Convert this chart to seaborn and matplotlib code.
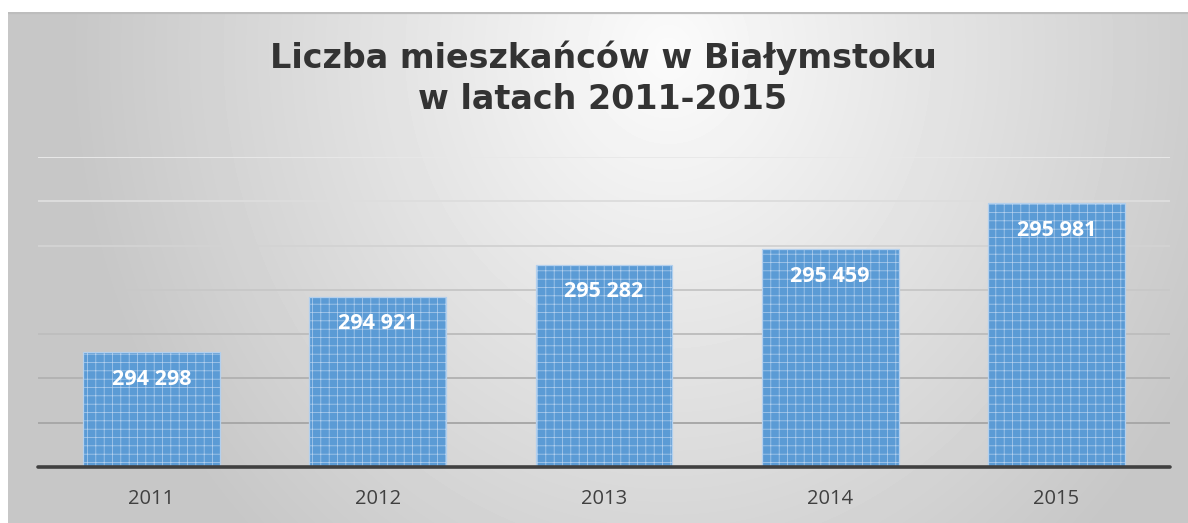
import numpy as np
import pandas as pd
import seaborn as sns
import matplotlib.pyplot as plt

years = ["2011", "2012", "2013", "2014", "2015"]
population = [294298, 294921, 295282, 295459, 295981]
value_labels = ["294 298", "294 921", "295 282", "295 459", "295 981"]
title = "Liczba mieszkańców w Białymstoku\nw latach 2011-2015"
y_min, y_max, y_step = 293000, 296500, 500

sns.set_theme(style="white")
plt.rcParams['font.family'] = ['Open Sans', 'DejaVu Sans']
plt.rcParams['hatch.linewidth'] = 0.5

df = pd.DataFrame({"year": years, "population": population})

W, H = 1188, 523
fig = plt.figure(figsize=(W / 100, H / 100), dpi=100)
fig.patch.set_facecolor("white")

# gradient background panel
bw, bh = 1180, 511
bg = fig.add_axes([8 / W, 0, bw / W, bh / H], zorder=0)
yy, xx = np.mgrid[0:bh, 0:bw]
r = np.sqrt(((xx - 660) / 640.0) ** 2 + ((yy - 40) / 720.0) ** 2)
val = np.clip(0.985 - 0.22 * r, 0.78, 1.0)
bg.imshow(val, cmap="gray", vmin=0, vmax=1, aspect="auto",
          extent=[0, bw, bh, 0], interpolation="bilinear")
bg.plot([0, bw], [0.8, 0.8], color="#bdbdbd", lw=1.6)
bg.set_xlim(0, bw)
bg.set_ylim(bh, 0)
bg.axis("off")

ax = fig.add_axes([38.4 / W, 56 / H, 1131.2 / W, 310 / H], zorder=1)
ax.patch.set_alpha(0)

sns.barplot(data=df, x="year", y="population", ax=ax, color="#5b9bd5",
            saturation=1, width=0.605, edgecolor="#b3d0ee", linewidth=0.9,
            hatch="++", zorder=3)

ax.set_xlim(-0.5, len(years) - 0.5)
ax.set_ylim(y_min, y_max)

grid_vals = list(range(y_min + y_step, y_max + 1, y_step))
n = len(grid_vals)
for k, v in enumerate(grid_vals):
    t = k / (n - 1)
    g = 0.66 + (0.91 - 0.66) * t
    ax.axhline(v, color=(g, g, g), lw=1.4, zorder=1)
ax.axhline(y_min, color="#404040", lw=2.6, zorder=4, clip_on=False)

for i, (v, lab) in enumerate(zip(population, value_labels)):
    ax.annotate(lab, (i, v), xytext=(0, -19.5), textcoords="offset points",
                ha="center", va="center", color="white", fontsize=15.5,
                fontweight="bold", zorder=5)

for s in ax.spines.values():
    s.set_visible(False)
ax.set_yticks([])
ax.set_xlabel("")
ax.set_ylabel("")
ax.tick_params(axis="x", length=0, pad=16, labelsize=14.5, labelcolor="#404040")

fig.text(603 / W, 1 - 78 / H, title, ha="center", va="center",
         fontsize=24, fontweight="bold", color="#333333",
         family=["DejaVu Sans"], linespacing=1.3, zorder=2)

fig.savefig("out.png", dpi=100)
